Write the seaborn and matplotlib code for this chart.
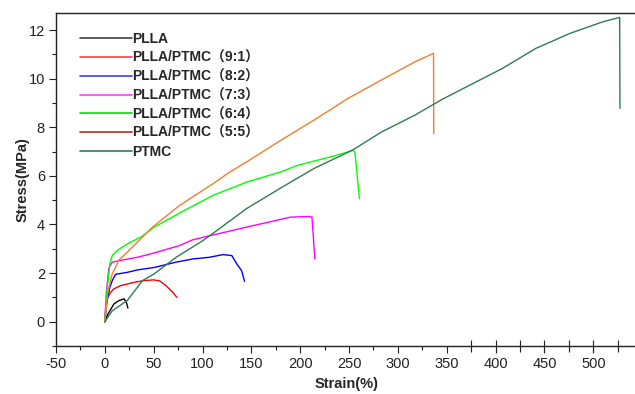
import numpy as np
import pandas as pd
import matplotlib
matplotlib.use("Agg")
import matplotlib.pyplot as plt
from matplotlib.lines import Line2D
from matplotlib.ticker import MultipleLocator
import seaborn as sns

# ---------------- data ----------------
labels = ["PLLA", "PLLA/PTMC（9:1）", "PLLA/PTMC（8:2）", "PLLA/PTMC（7:3）",
          "PLLA/PTMC（6:4）", "PLLA/PTMC（5:5）", "PTMC"]

plla_x = [0, 3, 9.3, 14.5, 19.7, 22, 23.6]
plla_y = [0, 0.3, 0.73, 0.87, 0.94, 0.8, 0.56]

p91_x = [0, 1, 3, 5.9, 9.3, 16, 30, 40, 50, 56, 62.7, 69.6, 73.7]
p91_y = [0, 0.6, 1.0, 1.21, 1.35, 1.48, 1.62, 1.69, 1.72, 1.68, 1.48, 1.21, 1.0]

p82_x = [0, 2, 5, 7.6, 11, 23, 33.4, 50.6, 73, 90, 107, 121, 130, 135, 140, 143]
p82_y = [0, 0.8, 1.4, 1.69, 1.95, 2.03, 2.13, 2.23, 2.45, 2.58, 2.65, 2.76, 2.72, 2.38, 2.1, 1.66]

p73_x = [0, 1.5, 4.1, 7.6, 16, 33.4, 50.6, 76.4, 90, 110.9, 145, 190, 209, 212, 215]
p73_y = [0, 1.2, 2.2, 2.45, 2.52, 2.65, 2.83, 3.13, 3.37, 3.57, 3.89, 4.3, 4.33, 4.3, 2.58]

p64_x = [0, 2, 5.2, 7.6, 12.7, 23, 36.8, 50.6, 76.4, 110.9, 145, 180, 197, 231, 248.7,
         253.8, 256, 260.6]
p64_y = [0, 1.2, 2.38, 2.72, 2.93, 3.2, 3.48, 3.89, 4.47, 5.2, 5.74, 6.16, 6.43, 6.78, 6.98,
         7.05, 6.98, 5.06]

p55_x = [0, 3, 7.6, 14.5, 23, 36.8, 48.8, 76.4, 110.9, 128, 145, 180, 214, 248.7, 283,
         317.5, 336.5, 336.7]
p55_y = [0, 1.2, 1.97, 2.54, 2.86, 3.41, 3.89, 4.78, 5.68, 6.16, 6.57, 7.46, 8.29, 9.18, 9.94,
         10.69, 11.04, 7.74]

ptmc_x = [0, 7.6, 23, 38.5, 50.6, 73, 100.5, 110.9, 145, 180, 214, 254, 283, 317.5, 345,
          373, 407, 441, 476, 510, 527, 527.3]
ptmc_y = [0, 0.45, 0.87, 1.69, 1.97, 2.65, 3.34, 3.64, 4.65, 5.5, 6.3, 7.07, 7.8, 8.5, 9.14,
          9.72, 10.42, 11.24, 11.86, 12.34, 12.52, 8.78]

curve_colors = ["#000000", "#ff0000", "#0000ff", "#ff00ff", "#00ff00", "#f07f30", "#2e7d4f"]
legend_colors = ["#404040", "#ff4040", "#4040ff", "#ff40ff", "#00e000", "#b03030", "#2e7d4f"]

xticks = [-50, 0, 50, 100, 150, 200, 250, 300, 350, 400, 450, 500]
yticks = [0, 2, 4, 6, 8, 10, 12]

series = [(plla_x, plla_y), (p91_x, p91_y), (p82_x, p82_y), (p73_x, p73_y),
          (p64_x, p64_y), (p55_x, p55_y), (ptmc_x, ptmc_y)]

frames = []
for lab, (xs, ys) in zip(labels, series):
    frames.append(pd.DataFrame({"strain": xs, "stress": ys, "sample": lab}))
df = pd.concat(frames, ignore_index=True)

# ---------------- plot ----------------
sns.set_theme(style="ticks")
plt.rcParams["font.family"] = ["Liberation Sans", "Noto Sans CJK SC", "DejaVu Sans"]
plt.rcParams["axes.unicode_minus"] = False

fig = plt.figure(figsize=(6.35, 3.94), dpi=100)
ax = fig.add_axes([56 / 635, 1 - 346 / 394, 1 - 56 / 635 + 0.002, (346 - 13) / 394])

for lab, col in zip(labels, curve_colors):
    sub = df[df["sample"] == lab]
    sns.lineplot(data=sub, x="strain", y="stress", sort=False, estimator=None,
                 color=col, linewidth=1.0, ax=ax, legend=False)

ax.set_xlim(-50, 544)
ax.set_ylim(-1, 12.7)
ax.set_xticks(xticks)
ax.set_yticks(yticks)
ax.xaxis.set_minor_locator(MultipleLocator(25))
ax.yaxis.set_minor_locator(MultipleLocator(1))
ax.tick_params(axis="both", which="major", direction="out", length=5, width=0.8,
               labelsize=10.5, colors="#222222", pad=3)
ax.tick_params(axis="both", which="minor", direction="out", length=3, width=0.8,
               colors="#222222")
for s in ["left", "bottom", "top"]:
    ax.spines[s].set_linewidth(1.0)
    ax.spines[s].set_color("#222222")
ax.spines["right"].set_visible(False)

# crossing ticks on the right part of the x axis
sec = ax.secondary_xaxis("bottom")
sec.set_xticks([375, 400, 425, 450, 475, 500, 525])
sec.tick_params(direction="inout", length=9, width=0.8, labelbottom=False, colors="#222222")
sec.spines["bottom"].set_visible(False)

ax.set_xlabel("Strain(%)", fontsize=10.5, fontweight="bold", labelpad=4)
ax.set_ylabel("Stress(MPa)", fontsize=10.5, fontweight="bold", labelpad=-1)

handles = [Line2D([0], [0], color=c, linewidth=1.2) for c in legend_colors]
leg = ax.legend(handles, labels, loc="upper left", bbox_to_anchor=(0.042, 0.942),
                frameon=False, handlelength=3.7, handletextpad=0.0, labelspacing=0.34,
                borderpad=0, borderaxespad=0,
                prop={"family": ["Liberation Sans", "Noto Sans CJK SC"],
                      "weight": "bold", "size": 10})

fig.savefig("out.png", dpi=100)
